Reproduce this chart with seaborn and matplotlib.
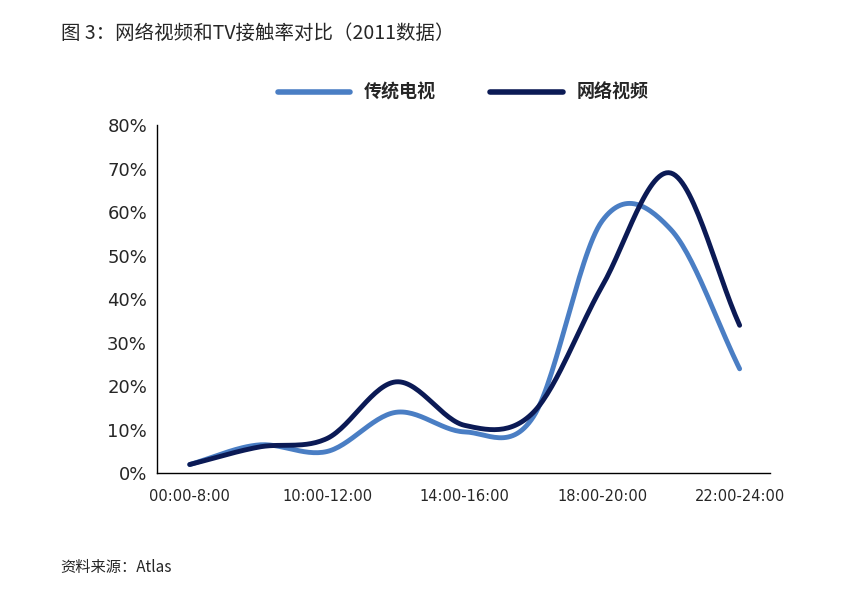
import numpy as np
import pandas as pd
import seaborn as sns
import matplotlib.pyplot as plt

periods = ['00:00-8:00', '8:00-10:00', '10:00-12:00', '12:00-14:00', '14:00-16:00',
           '16:00-18:00', '18:00-20:00', '20:00-22:00', '22:00-24:00']
tv = [2, 6.5, 5, 14, 9.5, 13, 58, 56, 24]
web = [2, 6, 8, 21, 11, 14, 43, 69, 34]

sns.set_style('white')
plt.rcParams['font.family'] = ['Noto Sans CJK SC', 'DejaVu Sans']


def smooth(y, n=30):
    # Catmull-Rom curve through the points, only for drawing
    y = np.asarray(y, float)
    p = np.concatenate([[2 * y[0] - y[1]], y, [2 * y[-1] - y[-2]]])
    xs, ys = [], []
    for i in range(len(y) - 1):
        p0, p1, p2, p3 = p[i:i + 4]
        t = np.linspace(0, 1, n, endpoint=False)
        ys.append(0.5 * (2 * p1 + (-p0 + p2) * t + (2 * p0 - 5 * p1 + 4 * p2 - p3) * t ** 2
                         + (-p0 + 3 * p1 - 3 * p2 + p3) * t ** 3))
        xs.append(i + t)
    xs.append([len(y) - 1]); ys.append([y[-1]])
    return np.concatenate(xs), np.concatenate(ys)


rows = []
for name, vals in [('传统电视', tv), ('网络视频', web)]:
    sx, sy = smooth(vals)
    rows.append(pd.DataFrame({'x': sx, 'y': sy, 'series': name}))
df = pd.concat(rows)

fig = plt.figure(figsize=(8.66, 5.99), dpi=100)
ax = fig.add_axes([0.181, 0.21, 0.708, 0.581])
sns.lineplot(data=df, x='x', y='y', hue='series', sort=False, ax=ax,
             palette={'传统电视': '#4a7ec4', '网络视频': '#0b1a55'}, linewidth=3.5)

ax.set_xlim(-0.48, 8.44)
ax.set_ylim(0, 80)
ax.set_xticks(range(0, 9, 2))
ax.set_xticklabels(periods[::2], fontsize=10.5, family='DejaVu Sans')
ax.set_yticks(range(0, 81, 10))
ax.set_yticklabels([f'{v}%' for v in range(0, 81, 10)], fontsize=13, family='DejaVu Sans')
ax.set_xlabel('')
ax.set_ylabel('')
for s in ['top', 'right']:
    ax.spines[s].set_visible(False)
for s in ['left', 'bottom']:
    ax.spines[s].set_color('black')
    ax.spines[s].set_linewidth(1)
ax.tick_params(axis='x', pad=8)

leg = ax.legend(loc='lower center', bbox_to_anchor=(0.5, 1.02), ncol=2, frameon=False,
                prop={'size': 13, 'weight': 'bold'}, handlelength=4, columnspacing=3)
for line in leg.get_lines():
    line.set_linewidth(4)

fig.text(0.07, 0.935, '图 3：网络视频和TV接触率对比（2011数据）', fontsize=14)
fig.text(0.07, 0.045, '资料来源：Atlas', fontsize=11)

fig.savefig('out.png', dpi=100)
